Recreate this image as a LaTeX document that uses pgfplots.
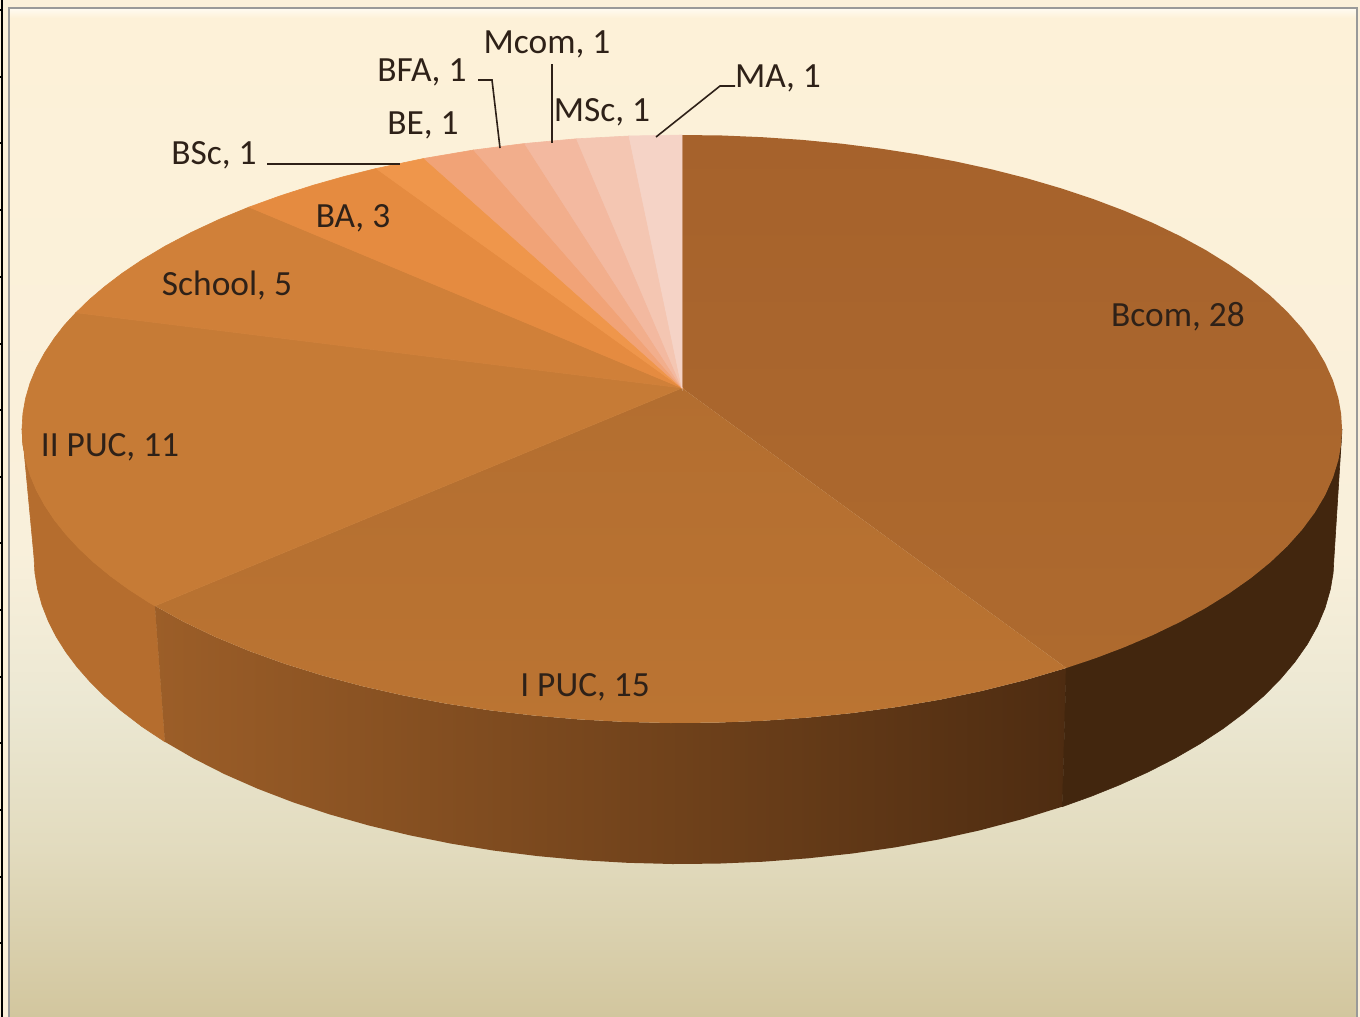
\documentclass[border=0pt]{standalone}
\usepackage{pgfplots}
\pgfplotsset{compat=1.18}
\usepackage{fontspec}
\setmainfont{Carlito}
\definecolor{base}{HTML}{FBF0DA}
\definecolor{glow}{HTML}{FFFBF2}
\definecolor{bgA}{HTML}{FDF1D8}
\definecolor{bgB}{HTML}{F9F0DB}
\definecolor{bgC}{HTML}{ECE8D3}
\definecolor{bgD}{HTML}{E2DBBE}
\definecolor{bgE}{HTML}{D2C69E}
\definecolor{cBcomT}{HTML}{A6622C}
\definecolor{cBcomB}{HTML}{AE6A2E}
\definecolor{cIPUCT}{HTML}{B36E30}
\definecolor{cIPUCB}{HTML}{BB7432}
\definecolor{cIIPUC}{HTML}{C67B36}
\definecolor{cSchool}{HTML}{D08039}
\definecolor{cBA}{HTML}{E58B40}
\definecolor{cBSc}{HTML}{EF964B}
\definecolor{cBE}{HTML}{F1A377}
\definecolor{cBFA}{HTML}{F2AE8C}
\definecolor{cMcom}{HTML}{F3B9A0}
\definecolor{cMSc}{HTML}{F4C6B2}
\definecolor{cMA}{HTML}{F5D3C6}
\definecolor{sL}{HTML}{B56D2E}
\definecolor{sMa}{HTML}{9C5E28}
\definecolor{sMb}{HTML}{75451C}
\definecolor{sMc}{HTML}{4E2C11}
\definecolor{sR}{HTML}{42260E}
\definecolor{txt}{HTML}{2E2118}
\newcommand{\lab}[3]{\node[text=txt,inner sep=0pt,font=\fontsize{17.7}{20}\selectfont] at (axis cs:#1,#2) {#3};}
\pgfplotsset{wedge/.style={draw=#1, line width=0.3pt, fill=#1}}
\begin{document}
\begin{tikzpicture}
\begin{axis}[
  scale only axis, width=680pt, height=508.5pt,
  xmin=0, xmax=1360, ymin=0, ymax=1017, y dir=reverse,
  hide axis, clip=true]
% page and plot-area background
\addplot[draw=none, fill=base] coordinates {(0,0)(1360,0)(1360,1017)(0,1017)} -- cycle;
\addplot[draw=none, top color=glow, bottom color=bgA] coordinates {(10,8)(1356,8)(1356,18)(10,18)} -- cycle;
\addplot[draw=none, top color=bgA, bottom color=bgB] coordinates {(10,18)(1356,18)(1356,550)(10,550)} -- cycle;
\addplot[draw=none, top color=bgB, bottom color=bgC] coordinates {(10,550)(1356,550)(1356,700)(10,700)} -- cycle;
\addplot[draw=none, top color=bgC, bottom color=bgD] coordinates {(10,700)(1356,700)(1356,850)(10,850)} -- cycle;
\addplot[draw=none, top color=bgD, bottom color=bgE] coordinates {(10,850)(1356,850)(1356,1017)(10,1017)} -- cycle;
\addplot[color=black!40, line width=1pt] coordinates {(9,1017)(9,8)(1357,8)(1357,1017)};
% ticks at the left edge
\addplot[black, line width=0.7pt] coordinates {(2,0)(2,1017)};
\foreach \yy in {10,77,143,210,277,344,410,477,543,610,677,743,810,877,943}{
  \edef\temp{\noexpand\addplot[black, line width=0.7pt] coordinates {(0,\yy)(3,\yy)};}\temp}
% sides
\addplot[wedge=sL] coordinates {(22,429)(22.9,444.4)(25.6,459.7)(30.1,475)(36.4,490.1)(44.5,505)(54.3,519.8)(65.9,534.3)(79.1,548.6)(94,562.5)(110.4,576)(128.4,589.1)(148,601.8)(154.9,605.9)(164.9,741.8)(141.9,726.5)(121,710.5)(104.8,696.4)(90.2,681.9)(77.2,667.1)(65.8,651.9)(56.1,636.5)(48.2,620.8)(42,605)(37.6,589.1)(34.9,573)(34,557)} -- cycle;
\addplot[draw=none, left color=sMa, middle color=sMb, right color=sMc] coordinates {(154.9,605.9)(183.9,621.9)(215.3,636.9)(249,650.9)(284.8,663.8)(322.5,675.5)(362,686.1)(403.1,695.4)(445.5,703.5)(489,710.2)(533.5,715.5)(578.8,719.4)(624.5,721.9)(670.5,723)(716.5,722.6)(762.4,720.8)(807.9,717.6)(852.8,713)(896.9,707)(939.9,699.7)(981.6,691)(1024.9,680.2)(1066.2,668)(1062.4,806.6)(1021.7,819.3)(979.1,830.5)(938,839.6)(895.6,847.3)(852.2,853.5)(808,858.3)(763.2,861.7)(718,863.6)(672.6,864)(627.3,862.8)(582.3,860.2)(537.8,856.1)(493.9,850.6)(451,843.6)(409.3,835.2)(368.9,825.5)(330,814.5)(292.8,802.2)(257.6,788.7)(224.4,774.1)(193.5,758.4)(164.9,741.8)} -- cycle;
\addplot[wedge=sR] coordinates {(1066.2,668)(1095.6,658.1)(1123.6,647.5)(1152.7,635.1)(1180.1,621.9)(1205.6,608)(1229.1,593.4)(1250.7,578.2)(1270.1,562.5)(1287.3,546.2)(1302.2,529.5)(1314.8,512.5)(1325.1,495.2)(1333,477.5)(1338.4,459.7)(1341.1,444.4)(1342,429)(1334,557)(1333.1,573)(1330.4,589.1)(1325.1,607.7)(1317.4,626.1)(1307.3,644.2)(1294.8,662)(1280.1,679.4)(1263.2,696.4)(1244.1,712.8)(1222.9,728.7)(1199.7,743.9)(1174.6,758.4)(1147.6,772.2)(1118.9,785.1)(1091.3,796.2)(1062.4,806.6)} -- cycle;
% top face wedges
\addplot[draw=none, top color=cBcomT, bottom color=cBcomB] coordinates {(682,388)(1066.2,668)(1095.6,658.1)(1123.6,647.5)(1152.7,635.1)(1180.1,621.9)(1205.6,608)(1229.1,593.4)(1250.7,578.2)(1270.1,562.5)(1287.3,546.2)(1302.2,529.5)(1314.8,512.5)(1325.1,495.2)(1333,477.5)(1338.4,459.7)(1341.1,444.4)(1342,429)(1341.1,413.6)(1338.4,398.3)(1333,380.5)(1325.1,362.9)(1314.8,345.5)(1302.2,328.5)(1287.3,311.8)(1270.1,295.5)(1250.7,279.8)(1229.1,264.6)(1205.6,250)(1180.1,236.1)(1152.7,222.9)(1123.6,210.5)(1092.9,198.9)(1060.6,188.2)(1026.9,178.3)(991.9,169.4)(955.7,161.5)(918.5,154.5)(880.5,148.6)(841.7,143.7)(802.3,139.9)(762.5,137.2)(722.3,135.5)(682,135)} -- cycle;
\addplot[draw=none, top color=cIPUCT, bottom color=cIPUCB] coordinates {(682,388)(154.9,605.9)(183.9,621.9)(215.3,636.9)(249,650.9)(284.8,663.8)(322.5,675.5)(362,686.1)(403.1,695.4)(445.5,703.5)(489,710.2)(533.5,715.5)(578.8,719.4)(624.5,721.9)(670.5,723)(716.5,722.6)(762.4,720.8)(807.9,717.6)(852.8,713)(896.9,707)(939.9,699.7)(981.6,691)(1024.9,680.2)(1066.2,668)} -- cycle;
\addplot[wedge=cIIPUC] coordinates {(682,388)(75.9,312.7)(64.3,325.3)(54.3,338.2)(44.5,353)(36.4,367.9)(30.1,383)(25.6,398.3)(22.9,413.6)(22,429)(22.9,444.4)(25.6,459.7)(30.1,475)(36.4,490.1)(44.5,505)(54.3,519.8)(65.9,534.3)(79.1,548.6)(94,562.5)(110.4,576)(128.4,589.1)(148,601.8)(154.9,605.9)} -- cycle;
\addplot[wedge=cSchool] coordinates {(682,388)(249,207.1)(219.4,219.3)(191.5,232.3)(165.4,246)(141.3,260.4)(122.3,273.2)(104.8,286.5)(89.6,299.4)(75.9,312.7)} -- cycle;
\addplot[wedge=cBA] coordinates {(682,388)(376.2,168.5)(344.1,176.5)(313,185.3)(280.3,195.8)(249,207.1)} -- cycle;
\addplot[wedge=cBSc] coordinates {(682,388)(424.1,158.4)(376.2,168.5)} -- cycle;
\addplot[wedge=cBE] coordinates {(682,388)(473.7,150)(424.1,158.4)} -- cycle;
\addplot[wedge=cBFA] coordinates {(682,388)(524.6,143.5)(473.7,150)} -- cycle;
\addplot[wedge=cMcom] coordinates {(682,388)(576.5,138.8)(524.6,143.5)} -- cycle;
\addplot[wedge=cMSc] coordinates {(682,388)(629,136)(576.5,138.8)} -- cycle;
\addplot[wedge=cMA] coordinates {(682,388)(682,135)(629,136)} -- cycle;
% leader lines
\addplot[txt, line width=0.8pt] coordinates {(267,164)(400,164)};
\addplot[txt, line width=0.8pt] coordinates {(478,80)(492,80)(500,148)};
\addplot[txt, line width=0.8pt] coordinates {(552,64)(552,143)};
\addplot[txt, line width=0.8pt] coordinates {(735,86)(720,86)(656,137)};
% labels
\lab{547}{44}{Mcom, 1}
\lab{422}{72}{BFA, 1}
\lab{423}{125}{BE, 1}
\lab{214}{155}{BSc, 1}
\lab{602}{112}{MSc, 1}
\lab{778}{78}{MA, 1}
\lab{353}{218}{BA, 3}
\lab{227}{285}{School, 5}
\lab{110}{447}{II PUC, 11}
\lab{585}{687}{I PUC, 15}
\lab{1178}{317}{Bcom, 28}
\end{axis}
\end{tikzpicture}
\end{document}
